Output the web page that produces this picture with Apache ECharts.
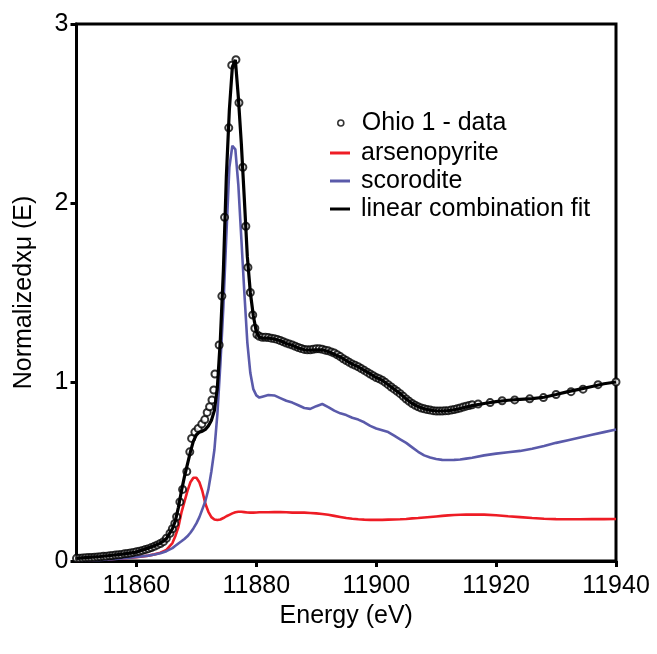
<!DOCTYPE html>
<html>
<head>
<meta charset="utf-8">
<script src="https://cdn.jsdelivr.net/npm/echarts@6/dist/echarts.min.js"></script>
<style>html,body{margin:0;padding:0;background:#fff;}#chart{width:657px;height:654px;}</style>
</head>
<body>
<div id="chart"></div>
<script>
// Energy grid for the reference / fit curves (eV)
const lineEnergy = [11850, 11852, 11854, 11856, 11858, 11860, 11862, 11863, 11864, 11865,
  11866, 11866.5, 11867, 11867.5, 11868, 11868.5, 11869, 11869.5, 11870, 11870.5,
  11871, 11871.5, 11872, 11872.5, 11873, 11873.5, 11874, 11874.5, 11875, 11875.5,
  11876, 11876.5, 11877, 11877.5, 11878, 11878.5, 11879, 11879.5, 11880, 11880.5,
  11881, 11882, 11883, 11884, 11885, 11886, 11887, 11888, 11889, 11890,
  11891, 11892, 11893, 11894, 11895, 11896, 11897, 11898, 11899, 11900,
  11901, 11902, 11903, 11904, 11905, 11906, 11907, 11908, 11909, 11910,
  11911, 11912, 11913, 11914, 11915, 11916, 11918, 11920, 11922, 11924,
  11926, 11928, 11930, 11932, 11934, 11936, 11938, 11940];

const fitMu = [0.015, 0.02, 0.025, 0.032, 0.04, 0.05, 0.072, 0.085, 0.1, 0.125,
  0.18, 0.225, 0.30, 0.39, 0.47, 0.54, 0.61, 0.67, 0.705, 0.72,
  0.725, 0.735, 0.755, 0.785, 0.84, 0.97, 1.24, 1.62, 2.15, 2.52,
  2.76, 2.80, 2.59, 2.33, 2.02, 1.70, 1.50, 1.37, 1.28, 1.25,
  1.245, 1.245, 1.24, 1.23, 1.215, 1.205, 1.19, 1.18, 1.178, 1.18,
  1.18, 1.17, 1.155, 1.14, 1.12, 1.10, 1.085, 1.065, 1.045, 1.025,
  1.01, 0.985, 0.96, 0.935, 0.905, 0.88, 0.862, 0.85, 0.843, 0.838,
  0.838, 0.84, 0.845, 0.852, 0.86, 0.868, 0.88, 0.89, 0.898, 0.903,
  0.907, 0.915, 0.93, 0.946, 0.96, 0.975, 0.99, 1.0];

const scoroditeMu = [0.0, 0.003, 0.006, 0.01, 0.015, 0.022, 0.03, 0.036, 0.043, 0.055,
  0.072, 0.085, 0.098, 0.11, 0.123, 0.138, 0.158, 0.182, 0.21, 0.245,
  0.29, 0.335, 0.40, 0.50, 0.62, 0.82, 1.10, 1.42, 1.82, 2.20,
  2.32, 2.30, 2.10, 1.80, 1.50, 1.22, 1.05, 0.96, 0.925, 0.913,
  0.918, 0.927, 0.925, 0.91, 0.895, 0.885, 0.87, 0.855, 0.85, 0.865,
  0.877, 0.86, 0.84, 0.825, 0.815, 0.80, 0.79, 0.775, 0.755, 0.74,
  0.73, 0.72, 0.70, 0.68, 0.66, 0.635, 0.61, 0.59, 0.578, 0.57,
  0.565, 0.564, 0.565, 0.567, 0.572, 0.577, 0.59, 0.60, 0.608, 0.615,
  0.627, 0.642, 0.66, 0.675, 0.69, 0.705, 0.72, 0.735];

const arsenopyriteMu = [0.0, 0.004, 0.008, 0.012, 0.016, 0.021, 0.03, 0.037, 0.046, 0.062,
  0.10, 0.14, 0.19, 0.27, 0.33, 0.39, 0.44, 0.465, 0.465, 0.44,
  0.39, 0.32, 0.275, 0.245, 0.232, 0.229, 0.232, 0.24, 0.25, 0.258,
  0.266, 0.272, 0.275, 0.275, 0.273, 0.271, 0.27, 0.27, 0.271, 0.272,
  0.272, 0.272, 0.273, 0.273, 0.272, 0.27, 0.27, 0.27, 0.268, 0.266,
  0.263, 0.258, 0.252, 0.246, 0.24, 0.236, 0.233, 0.231, 0.23, 0.23,
  0.23, 0.231, 0.232, 0.233, 0.235, 0.238, 0.24, 0.243, 0.246, 0.249,
  0.252, 0.255, 0.257, 0.258, 0.259, 0.26, 0.259, 0.256, 0.25, 0.245,
  0.24, 0.236, 0.234, 0.233, 0.233, 0.234, 0.234, 0.235];

// Ohio 1 measured data
const dataEnergy = [11850, 11850.5, 11851, 11851.5, 11852, 11852.5, 11853, 11853.5, 11854, 11854.5,
  11855, 11855.5, 11856, 11856.5, 11857, 11857.5, 11858, 11858.5, 11859, 11859.5,
  11860, 11860.5, 11861, 11861.5, 11862, 11862.5, 11863, 11863.5, 11864, 11864.5,
  11865, 11865.6, 11866, 11866.4, 11866.7, 11867.25, 11867.7, 11868.4, 11868.9, 11869.2,
  11869.75, 11870.3, 11870.9, 11871.4, 11871.8, 11872.2, 11872.6, 11872.9, 11873.1, 11873.8,
  11874.25, 11874.7, 11875.4, 11875.9, 11876.6, 11877.1, 11877.75, 11878.25, 11878.6, 11879,
  11879.4, 11879.75, 11880.1,
  11880.5, 11881, 11881.5, 11882, 11882.5, 11883, 11883.5, 11884, 11884.5, 11885,
  11885.5, 11886, 11886.5, 11887, 11887.5, 11888, 11888.5, 11889, 11889.5, 11890,
  11890.5, 11891, 11891.5, 11892, 11892.5, 11893, 11893.5, 11894, 11894.5, 11895,
  11895.5, 11896, 11896.5, 11897, 11897.5, 11898, 11898.5, 11899, 11899.5, 11900,
  11900.5, 11901, 11901.5, 11902, 11902.5, 11903, 11903.5, 11904, 11904.5, 11905,
  11905.5, 11906, 11906.5, 11907, 11907.5, 11908, 11908.5, 11909, 11909.5, 11910,
  11910.5, 11911, 11911.5, 11912, 11912.5, 11913, 11913.5, 11914, 11914.5, 11915,
  11915.5, 11916,
  11917, 11919, 11921, 11923.1, 11925.6, 11927.9, 11930, 11932.5, 11934.5, 11937, 11940];

const dataMu = [0.015, 0.016, 0.017, 0.018, 0.019, 0.02, 0.021, 0.023, 0.024, 0.026,
  0.027, 0.029, 0.031, 0.033, 0.035, 0.037, 0.04, 0.042, 0.045, 0.048,
  0.051, 0.055, 0.059, 0.064, 0.069, 0.075, 0.082, 0.09, 0.098, 0.108,
  0.127, 0.155, 0.18, 0.21, 0.247, 0.33, 0.40, 0.50, 0.61, 0.685,
  0.72, 0.74, 0.765, 0.79, 0.83, 0.862, 0.90, 0.955, 1.045, 1.207,
  1.48, 1.92, 2.42, 2.77, 2.80, 2.56, 2.20, 1.87, 1.64, 1.50,
  1.374, 1.30, 1.265,
  1.255, 1.25, 1.25, 1.248, 1.245, 1.242, 1.238, 1.232, 1.225, 1.218,
  1.212, 1.207, 1.20, 1.193, 1.187, 1.182, 1.18, 1.18, 1.183, 1.186,
  1.186, 1.183, 1.178, 1.174, 1.168, 1.162, 1.152, 1.142, 1.13, 1.12,
  1.11, 1.10, 1.093, 1.085, 1.075, 1.065, 1.055, 1.045, 1.035, 1.025,
  1.018, 1.01, 0.998, 0.985, 0.972, 0.96, 0.948, 0.935, 0.92, 0.905,
  0.892, 0.88, 0.87, 0.862, 0.855, 0.85, 0.846, 0.843, 0.84, 0.838,
  0.838, 0.838, 0.839, 0.84, 0.843, 0.846, 0.85, 0.855, 0.86, 0.865,
  0.869, 0.873,
  0.877, 0.885, 0.895, 0.90, 0.906, 0.913, 0.93, 0.946, 0.96, 0.985, 1.0];

const xTickValues = [11860, 11880, 11900, 11920, 11940];
const yTickValues = [0, 1, 2, 3];

const seriesNames = ['Ohio 1 - data', 'arsenopyrite', 'scorodite', 'linear combination fit'];

const zip = (xs, ys) => xs.map((x, i) => [x, ys[i]]);

const FONT = 'Liberation Sans, Arial, sans-serif';
const chart = echarts.init(document.getElementById('chart'), null, {renderer: 'canvas'});
const axisCommon = {
  axisLine: {show: true, onZero: false, lineStyle: {color: '#000', width: 3}},
  axisTick: {show: true, inside: false, length: 6, lineStyle: {color: '#000', width: 3}},
  splitLine: {show: false},
  nameLocation: 'middle',
  nameTextStyle: {color: '#000', fontSize: 25, fontFamily: FONT}
};
const plain = v => String(v);
chart.setOption({
  animation: false,
  backgroundColor: '#fff',
  grid: {left: 76.5, right: 41, top: 24, bottom: 93, show: true, borderColor: '#000', borderWidth: 3, backgroundColor: 'transparent'},
  xAxis: Object.assign({}, axisCommon, {
    type: 'value', min: 11850, max: 11940,
    name: 'Energy (eV)', nameGap: 38,
    axisTick: Object.assign({}, axisCommon.axisTick, {customValues: xTickValues}),
    axisLabel: {customValues: xTickValues, formatter: plain, color: '#000', fontSize: 25, fontFamily: FONT, margin: 13}
  }),
  yAxis: Object.assign({}, axisCommon, {
    type: 'value', min: 0, max: 3,
    name: 'Normalizedxμ (E)', nameGap: 40,
    axisTick: Object.assign({}, axisCommon.axisTick, {customValues: yTickValues}),
    axisLabel: {customValues: yTickValues, formatter: plain, color: '#000', fontSize: 25, fontFamily: FONT, margin: 8}
  }),
  legend: [
    {
      data: [seriesNames[0]], left: 332, top: 104, orient: 'vertical',
      icon: 'circle', itemWidth: 6, itemHeight: 6, itemGap: 0,
      itemStyle: {color: '#fff', borderColor: '#000', borderWidth: 1.6},
      textStyle: {color: '#000', fontSize: 25, fontFamily: FONT, lineHeight: 28, padding: [0, 0, 0, 13]}
    },
    {
      data: seriesNames.slice(1), left: 325, top: 134, orient: 'vertical',
      icon: 'rect', itemWidth: 20, itemHeight: 3, itemGap: 0,
      textStyle: {color: '#000', fontSize: 25, fontFamily: FONT, lineHeight: 28, padding: [0, 0, 0, 6]}
    }
  ],
  series: [
    {name: seriesNames[1], type: 'line', data: zip(lineEnergy, arsenopyriteMu), showSymbol: false, symbol: 'none',
     color: '#ee1c25', lineStyle: {color: '#ee1c25', width: 2.6}, z: 2},
    {name: seriesNames[2], type: 'line', data: zip(lineEnergy, scoroditeMu), showSymbol: false, symbol: 'none',
     color: '#5a5aaa', lineStyle: {color: '#5a5aaa', width: 2.6}, z: 2},
    {name: seriesNames[0], type: 'scatter', data: zip(dataEnergy, dataMu), symbol: 'circle', symbolSize: 7,
     itemStyle: {color: '#fff', borderColor: '#000', borderWidth: 2}, z: 3},
    {name: seriesNames[3], type: 'line', data: zip(lineEnergy, fitMu), showSymbol: false, symbol: 'none',
     color: '#000', lineStyle: {color: '#000', width: 3.2}, z: 4}
  ]
});
</script>
</body>
</html>
